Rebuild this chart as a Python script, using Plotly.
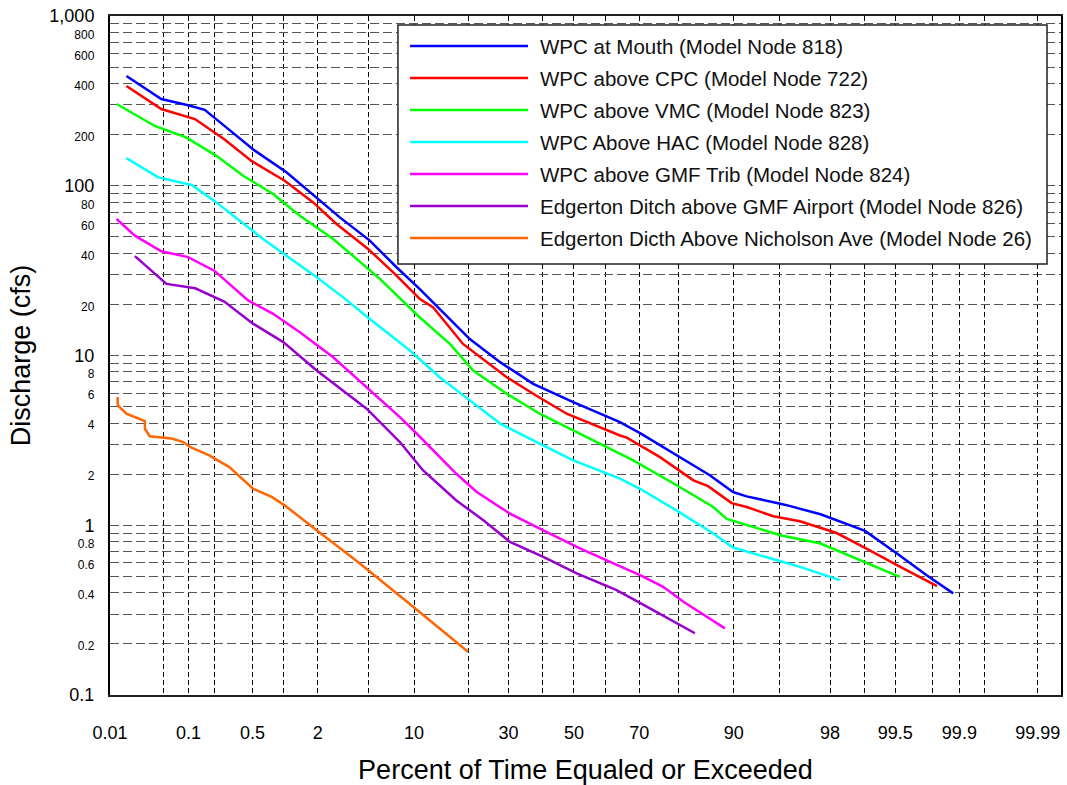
import plotly.graph_objects as go
from statistics import NormalDist

# ---------------- data (percent of time exceeded, discharge cfs) ----------------
names = [
    "WPC at Mouth (Model Node 818)",
    "WPC above CPC (Model Node 722)",
    "WPC above VMC (Model Node 823)",
    "WPC Above HAC (Model Node 828)",
    "WPC above GMF Trib (Model Node 824)",
    "Edgerton Ditch above GMF Airport (Model Node 826)",
    "Edgerton Dicth Above Nicholson Ave (Model Node 26)",
]
colors = ["#0000FF", "#FF0000", "#00FF00", "#00FFFF", "#FF00FF", "#9900CC", "#FF6600"]

mouth_pct = [0.0167, 0.047, 0.099, 0.154, 0.268, 0.526, 1.06, 1.96, 3.03, 5.09, 7.75, 10.8, 13.5,
             20.2, 27.7, 37.2, 49.8, 64.4, 70.2, 79.5, 86.2, 89.9, 91.7, 95.1, 95.8, 97.6, 98.24,
             99.02, 99.52, 99.766, 99.882]
mouth_cfs = [443, 324, 298, 280, 220, 161, 120, 85.4, 65.1, 47.5, 33.1, 24.7, 19.7,
             12.5, 9.14, 6.81, 5.31, 4.05, 3.49, 2.58, 1.97, 1.57, 1.48, 1.34, 1.30, 1.16, 1.07,
             0.926, 0.682, 0.508, 0.397]

cpc_pct = [0.0167, 0.047, 0.119, 0.253, 0.487, 1.02, 1.83, 2.85, 4.95, 7.37, 10.8, 12.97, 18.7,
           24.2, 29.5, 37.2, 47.7, 64.4, 66.4, 75.5, 83.1, 85.9, 89.7, 91.7, 94.5, 96.5, 98.24,
           99.05, 99.52, 99.82]
cpc_cfs = [387, 283, 247, 188, 140, 107, 79.8, 59.5, 42.4, 30.9, 21.6, 19.2, 11.7,
           9.14, 7.45, 5.95, 4.54, 3.38, 3.28, 2.52, 1.84, 1.70, 1.35, 1.28, 1.13, 1.055, 0.90,
           0.729, 0.582, 0.438]

vmc_pct = [0.0123, 0.039, 0.095, 0.208, 0.40, 0.795, 1.40, 2.68, 5.99, 10.8, 16.0, 20.96, 29.5,
           39.2, 49.8, 59.3, 64.4, 68.3, 79.5, 86.8, 88.97, 91.7, 95.1, 97.6, 98.24, 98.98, 99.55]
vmc_cfs = [303, 225, 192, 150, 114.5, 89.4, 66.6, 48.6, 28.3, 16.8, 11.7, 8.16, 5.95,
           4.54, 3.62, 2.96, 2.64, 2.41, 1.72, 1.28, 1.09, 1.0, 0.873, 0.78, 0.713, 0.608, 0.497]

hac_pct = [0.0167, 0.043, 0.109, 0.208, 0.37, 0.635, 1.06, 1.96, 3.22, 5.09, 9.43, 14.1, 20.2,
           27.7, 37.2, 49.8, 64.4, 70.2, 79.5, 86.8, 89.9, 93.9, 96.5, 98.35]
hac_cfs = [145.5, 112, 101, 79.8, 62.2, 48.6, 38.7, 28.9, 22.0, 16.4, 10.7, 7.45, 5.44,
           3.97, 3.16, 2.41, 1.88, 1.64, 1.22, 0.894, 0.739, 0.651, 0.569, 0.475]

gmf_pct = [0.0123, 0.0216, 0.047, 0.099, 0.197, 0.45, 0.795, 1.40, 2.68, 5.09, 8.15, 10.4, 17.3,
           21.8, 30.4, 40.3, 50.9, 61.4, 70.2, 76.3, 81.0, 88.7]
gmf_cfs = [63.7, 50.8, 41.1, 38.0, 31.6, 21.1, 17.6, 13.7, 9.77, 6.22, 4.34, 3.46, 2.01,
           1.57, 1.17, 0.934, 0.745, 0.608, 0.508, 0.434, 0.354, 0.247]

airport_pct = [0.0216, 0.0545, 0.12, 0.253, 0.505, 0.99, 1.96, 4.83, 8.15, 11.3, 17.3, 23.4, 30.4,
               40.3, 50.9, 63.4, 72.9, 83.4]
airport_cfs = [38.5, 26.4, 24.9, 20.8, 15.4, 12.0, 8.16, 4.86, 3.09, 2.11, 1.40, 1.07, 0.798,
               0.651, 0.520, 0.415, 0.324, 0.231]

nich_pct = [0.0127, 0.0128, 0.0167, 0.0291, 0.0292, 0.0337, 0.063, 0.087, 0.104, 0.173, 0.287,
            0.505, 0.77, 1.02, 1.96, 4.31, 9.87, 19.8]
nich_cfs = [5.69, 5.08, 4.54, 4.11, 3.70, 3.34, 3.24, 3.09, 2.89, 2.58, 2.20, 1.64, 1.47, 1.31,
            0.934, 0.595, 0.331, 0.180]

series_pct = [mouth_pct, cpc_pct, vmc_pct, hac_pct, gmf_pct, airport_pct, nich_pct]
series_cfs = [mouth_cfs, cpc_cfs, vmc_cfs, hac_cfs, gmf_cfs, airport_cfs, nich_cfs]

x_tick_labels = ["0.01", "0.1", "0.5", "2", "10", "30", "50", "70", "90", "98", "99.5", "99.9", "99.99"]
x_grid_extra = [0.05, 0.2, 1, 5, 20, 40, 60, 80, 95, 99, 99.8, 99.95]

y_major = [0.1, 1, 10, 100, 1000]
y_major_text = ["0.1", "1", "10", "100", "1,000"]
y_minor_lab = [0.2, 0.4, 0.6, 0.8, 2, 4, 6, 8, 20, 40, 60, 80, 200, 400, 600, 800]
y_minor_grid = [0.3, 0.5, 0.7, 0.9, 3, 5, 7, 9, 30, 50, 70, 90, 300, 500, 700, 900]

# ---------------- probability (normal) scale ----------------
nd = NormalDist()


def zpos(p):
    return nd.inv_cdf(p / 100.0)


FONT = "Liberation Sans, Arial, sans-serif"

fig = go.Figure()
for name, col, px_, cy in zip(names, colors, series_pct, series_cfs):
    fig.add_trace(go.Scatter(
        x=[zpos(p) for p in px_], y=cy, mode="lines", name=name,
        line=dict(color=col, width=2.5), showlegend=False,
        customdata=px_, hovertemplate="%{customdata}%%: %{y} cfs<extra>" + name + "</extra>",
    ))

# y tick labels: major big, minor small
yt_vals = []
yt_text = []
for v, t in zip(y_major, y_major_text):
    yt_vals.append(v)
    yt_text.append(t)
for v in y_minor_lab:
    yt_vals.append(v)
    yt_text.append('<span style="font-size:12px">%g</span>' % v)

fig.update_layout(
    width=1067, height=785,
    margin=dict(l=110, r=6, t=16, b=90, autoexpand=False),
    paper_bgcolor="white", plot_bgcolor="white",
    font=dict(family=FONT, color="#000"),
    showlegend=False,
    xaxis=dict(
        automargin=False,
        range=[zpos(0.01), 3.905],
        tickmode="array",
        tickvals=[zpos(float(t)) for t in x_tick_labels],
        ticktext=x_tick_labels,
        tickfont=dict(size=18, family=FONT),
        ticks="", ticklabelstandoff=20, ticklabeloverflow="allow",
        showgrid=True, gridcolor="#000", gridwidth=1, griddash="5px,3px",
        minor=dict(tickmode="array", tickvals=[zpos(p) for p in x_grid_extra],
                   showgrid=True, gridcolor="#000", gridwidth=1, griddash="5px,3px", ticks=""),
        showline=True, linecolor="#222", linewidth=2, mirror=True,
        zeroline=False,
        title=dict(text="Percent of Time Equaled or Exceeded", font=dict(size=27, family=FONT), standoff=24),
    ),
    yaxis=dict(
        automargin=False,
        type="log", range=[-1, 3],
        tickmode="array", tickvals=yt_vals, ticktext=yt_text,
        tickfont=dict(size=18, family=FONT),
        ticks="", ticklabelstandoff=10, ticklabeloverflow="allow",
        showgrid=True, gridcolor="#555", gridwidth=1, griddash="9px,4px",
        minor=dict(tickmode="array", tickvals=y_minor_grid,
                   showgrid=True, gridcolor="#555", gridwidth=1, griddash="9px,4px", ticks=""),
        showline=True, linecolor="#000", linewidth=2, mirror=True,
        zeroline=False,
        title=dict(text="Discharge (cfs)", font=dict(size=27, family=FONT), standoff=11),
    ),
    yaxis2=dict(
        automargin=False,
        type="log", range=[-1, 3], overlaying="y", anchor="x", side="left",
        tickmode="array", tickvals=y_major, ticks="inside", ticklen=13, tickwidth=1.5,
        tickcolor="#000", showticklabels=False, showgrid=False, zeroline=False, showline=False,
    ),
)

# ---------------- legend (drawn box, sample lines and text) ----------------
leg_x0, leg_x1 = 0.3028, 0.9853
leg_y0, leg_y1 = 0.6348, 0.9867
fig.add_shape(type="rect", xref="paper", yref="paper", x0=leg_x0, x1=leg_x1, y0=leg_y0, y1=leg_y1,
              fillcolor="white", line=dict(color="#222", width=1.5), layer="above")
row_top = 0.9558
row_step = 32 / 679
for i, (name, col) in enumerate(zip(names, colors)):
    yy = row_top - i * row_step
    fig.add_shape(type="line", xref="paper", yref="paper", x0=0.3155, x1=0.4395, y0=yy, y1=yy,
                  line=dict(color=col, width=2.5), layer="above")
    fig.add_annotation(xref="paper", yref="paper", x=0.4505, y=yy, xanchor="left", yanchor="middle",
                       text=name, showarrow=False, font=dict(size=20.5, family=FONT, color="#111"))

# drop the page's default body margin so the figure fills the window exactly
fig.write_html("out.html", config={"displayModeBar": False},
               post_script="document.body.style.margin='0';")
